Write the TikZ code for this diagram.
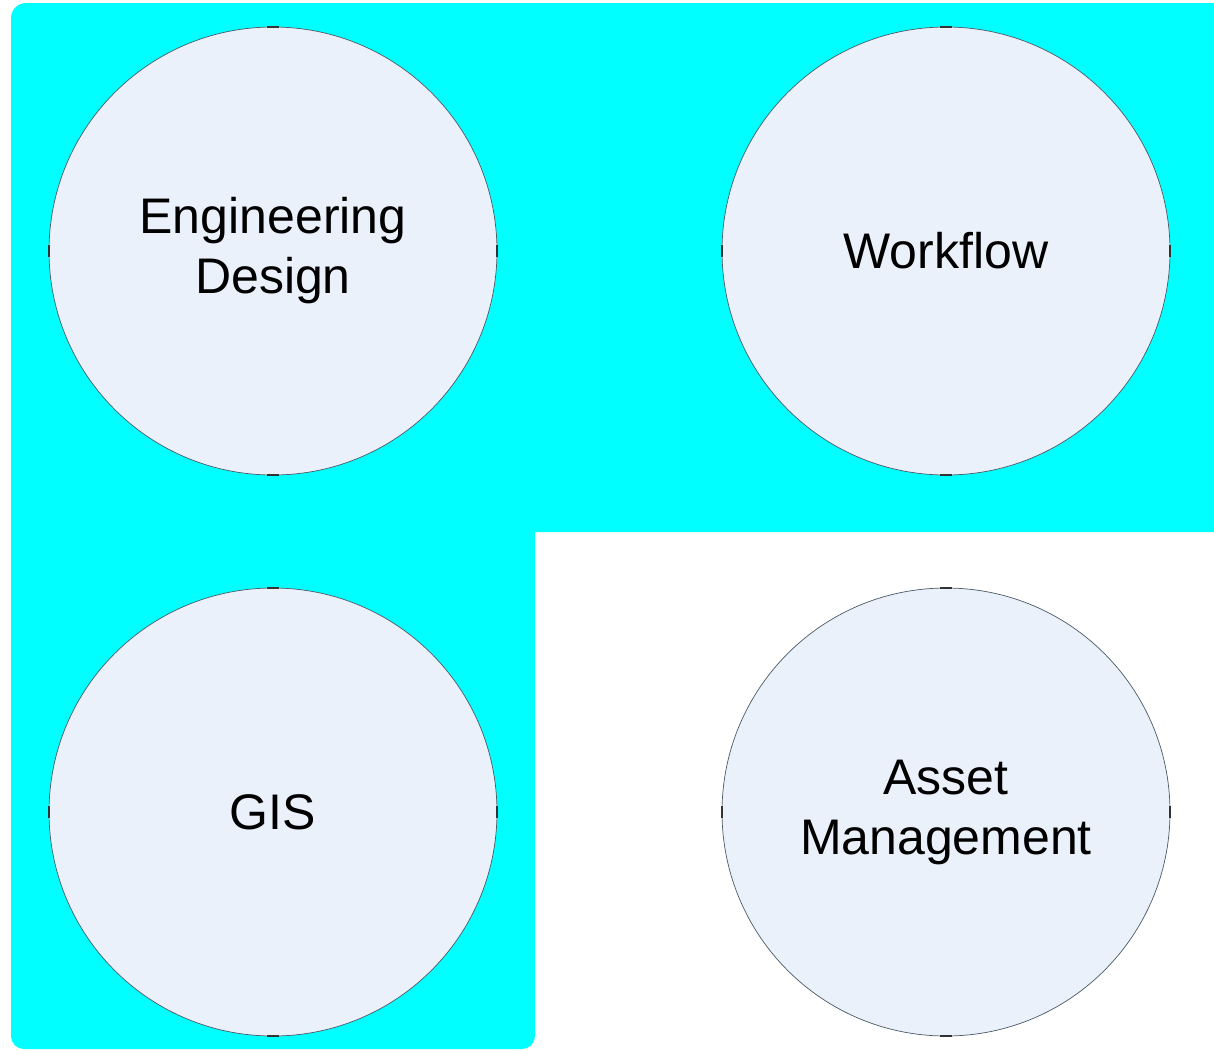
\documentclass[tikz,border=0pt]{standalone}
\usepackage{fontspec}
\setmainfont{Liberation Sans}
\definecolor{bgcyan}{HTML}{00FFFF}
\definecolor{circfill}{HTML}{EAF1FA}
\definecolor{circline}{HTML}{4A5A66}
\begin{document}
\begin{tikzpicture}[x=1pt,y=-1pt,
  domnode/.style={circle,draw=circline,line width=0.7pt,fill=circfill,minimum size=448pt,inner sep=0pt,
    align=center,font=\fontsize{50}{60}\selectfont},
  tickmark/.style={line width=2.2pt,draw=black!80}]
\useasboundingbox (0,0) rectangle (1214,1050);
% cyan background region
\fill[bgcyan] (11,18) arc[start angle=180,end angle=90,x radius=15,y radius=-15]
  -- (1214,3) -- (1214,532) -- (535,532) -- (535,1036)
  arc[start angle=0,end angle=-90,x radius=13,y radius=-13]
  -- (24,1049) arc[start angle=270,end angle=180,x radius=13,y radius=-13] -- cycle;
\node[domnode] (eng) at (273,251) {Engineering\\Design};
\node[domnode] (wf) at (946,251) {Workflow};
\node[domnode] (gis) at (273,812) {GIS};
\node[domnode] (am) at (946,812) {Asset\\Management};
\foreach \n in {eng,wf,gis,am}{
  \draw[tickmark] ([xshift=-6pt]\n.north) -- ([xshift=6pt]\n.north);
  \draw[tickmark] ([xshift=-6pt]\n.south) -- ([xshift=6pt]\n.south);
  \draw[tickmark] ([yshift=-6pt]\n.west) -- ([yshift=6pt]\n.west);
  \draw[tickmark] ([yshift=-6pt]\n.east) -- ([yshift=6pt]\n.east);
}
\end{tikzpicture}
\end{document}
